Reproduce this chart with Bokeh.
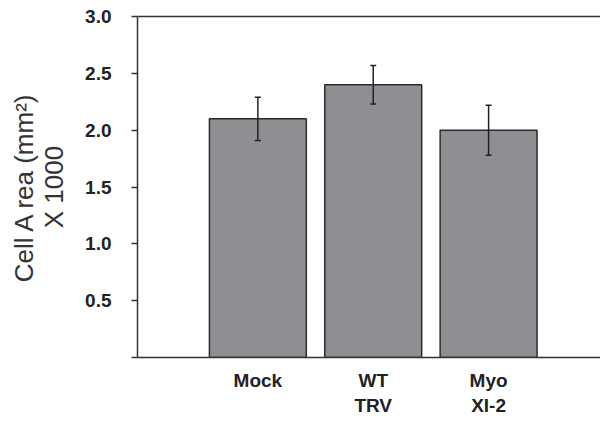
from bokeh.plotting import figure
from bokeh.models import (Range1d, FixedTicker, LinearAxis, ColumnDataSource,
                          Whisker, TeeHead, PrintfTickFormatter)
from bokeh.embed import file_html
from bokeh.resources import INLINE

categories = ["Mock", "WT\nTRV", "Myo\nXI-2"]
values = [2.10, 2.40, 2.00]
errors = [0.19, 0.17, 0.22]
y_ticks = [0.0, 0.5, 1.0, 1.5, 2.0, 2.5, 3.0]

xs = [i + 1 for i in range(len(categories))]
src = ColumnDataSource(dict(
    x=xs, top=values,
    upper=[v + e for v, e in zip(values, errors)],
    lower=[v - e for v, e in zip(values, errors)],
))

p = figure(width=600, height=421, output_backend="svg", toolbar_location=None,
           x_range=Range1d(-0.0433, 3.97), y_range=Range1d(0, 3.0),
           min_border_left=137, min_border_right=0, min_border_top=16,
           min_border_bottom=64, tools="")
p.outline_line_color = None
p.grid.visible = False
p.background_fill_color = "white"
p.border_fill_color = "white"

p.vbar(x="x", top="top", width=0.84, source=src, fill_color="#8e8f93",
       line_color="#2b2b2b", line_width=1.5)

w = Whisker(base="x", upper="upper", lower="lower", source=src,
            line_color="#222222", line_width=1.5, level="overlay",
            upper_head=TeeHead(size=6, line_color="#222222", line_width=1.5),
            lower_head=TeeHead(size=6, line_color="#222222", line_width=1.5))
p.add_layout(w)

# Y axis
ya = p.yaxis[0]
ya.ticker = FixedTicker(ticks=y_ticks, minor_ticks=[])
ya.formatter = PrintfTickFormatter(format="%.1f")
ya.major_label_overrides = {0: ""}
ya.major_tick_out = 6
ya.major_tick_in = 0
ya.minor_tick_line_color = None
ya.axis_line_width = 1.5
ya.axis_line_color = "#333333"
ya.major_tick_line_width = 1.5
ya.major_tick_line_color = "#333333"
ya.major_label_text_font = "Liberation Sans"
ya.major_label_text_font_style = "bold"
ya.major_label_text_font_size = "19px"
ya.major_label_text_color = "#222222"
ya.major_label_standoff = 20
ya.axis_label = "Cell A rea (mm\u00b2)\nX 1000"
ya.axis_label_text_font = "Liberation Sans"
ya.axis_label_text_font_style = "normal"
ya.axis_label_text_font_size = "26px"
ya.axis_label_text_line_height = 1.0
ya.axis_label_text_color = "#333333"
ya.axis_label_standoff = 13

# X axis
xa = p.xaxis[0]
xa.ticker = FixedTicker(ticks=xs, minor_ticks=[])
xa.major_label_overrides = {x: c for x, c in zip(xs, categories)}
xa.major_tick_line_color = None
xa.minor_tick_line_color = None
xa.axis_line_width = 1.5
xa.axis_line_color = "#333333"
xa.major_label_text_font = "Liberation Sans"
xa.major_label_text_font_style = "bold"
xa.major_label_text_font_size = "19px"
xa.major_label_text_color = "#222222"
xa.major_label_standoff = 6

# Top border line
top = LinearAxis(ticker=FixedTicker(ticks=[]), axis_line_width=1.5,
                 axis_line_color="#333333", major_tick_line_color=None,
                 minor_tick_line_color=None, major_label_text_font_size="0px")
p.add_layout(top, "above")

open("out.html", "w").write(file_html(p, INLINE))
